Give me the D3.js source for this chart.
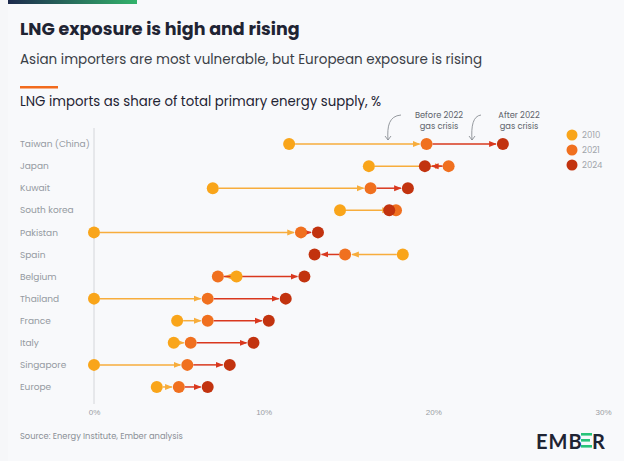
<!DOCTYPE html>
<meta charset="utf-8">
<style>
body { margin: 0; background: #f6f7f9; }
svg { font-family: "Poppins", Lato, "Open Sans", sans-serif; }
.cat { fill: #959aa1; font-size: 9px; }
.xaxis path, .xaxis line { display: none; }
.xaxis text { fill: #9a9ea4; font-size: 8px; }
</style>
<svg id="chart" width="624" height="461"></svg>
<script src="https://cdn.jsdelivr.net/npm/d3@7"></script>
<script>

var countries = ["Taiwan (China)", "Japan", "Kuwait", "South korea", "Pakistan", "Spain",
                 "Belgium", "Thailand", "France", "Italy", "Singapore", "Europe"];
var v2010 = [11.5, 16.2, 7.0, 14.5, 0, 18.2, 8.4, 0, 4.9, 4.7, 0, 3.7];
var v2021 = [19.6, 20.9, 16.3, 17.8, 12.2, 14.8, 7.3, 6.7, 6.7, 5.7, 5.5, 5.0];
var v2024 = [24.1, 19.5, 18.5, 17.4, 13.2, 13.0, 12.4, 11.3, 10.3, 9.4, 8.0, 6.7];
var years = ["2010", "2021", "2024"];
var ticks = [0, 10, 20, 30];

var colors = {"2010": "#f9a51a", "2021": "#f0701f", "2024": "#c2330f"};
var lineCol = {"2010": "#f7ad3c", "2021": "#d9381e"};

var svg = d3.select("svg");

var data = countries.map(function(c, i) {
  return {name: c, a: v2010[i], b: v2021[i], c: v2024[i]};
});

var x = d3.scaleLinear().domain([0, 30]).range([94, 603]);
var y = d3.scaleBand().domain(countries).range([133, 398]);

// background card
svg.append("rect").attr("x", 8).attr("y", 0).attr("width", 616).attr("height", 461).attr("fill", "#f8f9fb");

// top gradient bar
var grad = svg.append("defs").append("linearGradient").attr("id", "topbar");
grad.append("stop").attr("offset", "0%").attr("stop-color", "#1d2a4d");
grad.append("stop").attr("offset", "100%").attr("stop-color", "#33b36b");
svg.append("rect").attr("x", 8).attr("y", 0).attr("width", 129).attr("height", 4).attr("fill", "url(#topbar)");

// arrow markers
var defs = svg.select("defs");
["2010", "2021"].forEach(function(k) {
  defs.append("marker")
      .attr("id", "arr" + k)
      .attr("viewBox", "0 0 10 10")
      .attr("refX", 9).attr("refY", 5)
      .attr("markerWidth", 5).attr("markerHeight", 5)
      .attr("orient", "auto")
    .append("path")
      .attr("d", "M0,1L10,5L0,9Z")
      .attr("fill", lineCol[k]);
});

// titles
svg.append("text").attr("x", 20).attr("y", 35)
   .attr("font-size", 17.5).attr("font-weight", 700).attr("fill", "#1f2433")
   .text("LNG exposure is high and rising");
svg.append("text").attr("x", 20).attr("y", 64)
   .attr("font-size", 13.5).attr("fill", "#3b3f47")
   .text("Asian importers are most vulnerable, but European exposure is rising");
svg.append("rect").attr("x", 20).attr("y", 86).attr("width", 38).attr("height", 2.5).attr("fill", "#f26b1d");
svg.append("text").attr("x", 20).attr("y", 106)
   .attr("font-size", 13.3).attr("fill", "#1f2433")
   .text("LNG imports as share of total primary energy supply, %");

// vertical axis line
svg.append("line")
   .attr("x1", x(0)).attr("x2", x(0))
   .attr("y1", 128).attr("y2", 404)
   .attr("stroke", "#d4d6da").attr("stroke-width", 1);

// x axis
svg.append("g")
   .attr("class", "xaxis")
   .attr("transform", "translate(0,406)")
   .call(d3.axisBottom(x).tickValues(ticks).tickFormat(function(d) { return d + "%"; }).tickSize(0));

// category labels
svg.selectAll(".cat")
   .data(data).enter().append("text")
   .attr("class", "cat")
   .attr("x", 20)
   .attr("y", function(d) { return y(d.name) + y.bandwidth() / 2; })
   .attr("dy", "0.35em")
   .text(function(d) { return d.name; });

var r = 6;

function seg(x1, x2, k, cy) {
  var dir = x2 >= x1 ? 1 : -1;
  var gap = Math.abs(x2 - x1);
  if (gap < 2 * r + 2) return;
  svg.append("line")
     .attr("x1", x1 + dir * r).attr("x2", x2 - dir * (r + 1))
     .attr("y1", cy).attr("y2", cy)
     .attr("stroke", lineCol[k]).attr("stroke-width", 1.5)
     .attr("marker-end", "url(#arr" + k + ")");
}

data.forEach(function(d) {
  var cy = y(d.name) + y.bandwidth() / 2;
  seg(x(d.a), x(d.b), "2010", cy);
  seg(x(d.b), x(d.c), "2021", cy);
});

var dots = svg.append("g");
data.forEach(function(d) {
  var cy = y(d.name) + y.bandwidth() / 2;
  [["2010", d.a], ["2021", d.b], ["2024", d.c]].forEach(function(p) {
    dots.append("circle")
        .attr("cx", x(p[1])).attr("cy", cy).attr("r", r)
        .attr("fill", colors[p[0]]);
  });
});

// annotations
function note(tx, lines, ax, ay) {
  lines.forEach(function(l, i) {
    svg.append("text").attr("text-anchor", "middle").attr("font-size", 8.3).attr("fill", "#5d626a")
       .attr("x", tx).attr("y", 118 + i * 11).text(l);
  });
  var sx = tx - 38;
  svg.append("path")
     .attr("d", "M" + sx + ",115 C" + (ax + 1) + ",116 " + (ax - 1) + ",126 " + ax + "," + ay)
     .attr("fill", "none").attr("stroke", "#8a8e94").attr("stroke-width", 0.9);
  svg.append("path")
     .attr("d", "M" + (ax - 3) + "," + (ay - 4) + "L" + ax + "," + ay + "L" + (ax + 3) + "," + (ay - 4))
     .attr("fill", "none").attr("stroke", "#8a8e94").attr("stroke-width", 0.9);
}
note(439, ["Before 2022", "gas crisis"], 388, 140);
note(519, ["After 2022", "gas crisis"], 472, 140);

// legend
var leg = svg.append("g").attr("transform", "translate(572,135)");
years.forEach(function(yr, i) {
  leg.append("circle").attr("cx", 0).attr("cy", i * 15).attr("r", 5.5).attr("fill", colors[yr]);
  leg.append("text").attr("x", 10).attr("y", i * 15).attr("dy", "0.35em")
     .attr("font-size", 8.5).attr("fill", "#a0a4aa").text(yr);
});

// source
svg.append("text").attr("x", 20).attr("y", 439)
   .attr("font-size", 8.3).attr("fill", "#8a8f96")
   .text("Source: Energy Institute, Ember analysis");

// logo
var logo = svg.append("g").attr("transform", "translate(536,449)");
logo.append("text").attr("x", 0).attr("y", 0)
    .attr("font-size", 20).attr("font-weight", 700).attr("fill", "#1f2433")
    .attr("font-family", "Lato, sans-serif").attr("letter-spacing", 1)
    .text("EMB");
logo.append("text").attr("x", 56).attr("y", 0)
    .attr("font-size", 20).attr("font-weight", 700).attr("fill", "#1f2433")
    .attr("font-family", "Lato, sans-serif")
    .text("R");
[-14, -8, -2].forEach(function(yy, i) {
  logo.append("rect").attr("x", 45).attr("y", yy - 2).attr("width", i == 1 ? 9 : 11).attr("height", 2.6).attr("fill", "#27c47a");
});

</script>
